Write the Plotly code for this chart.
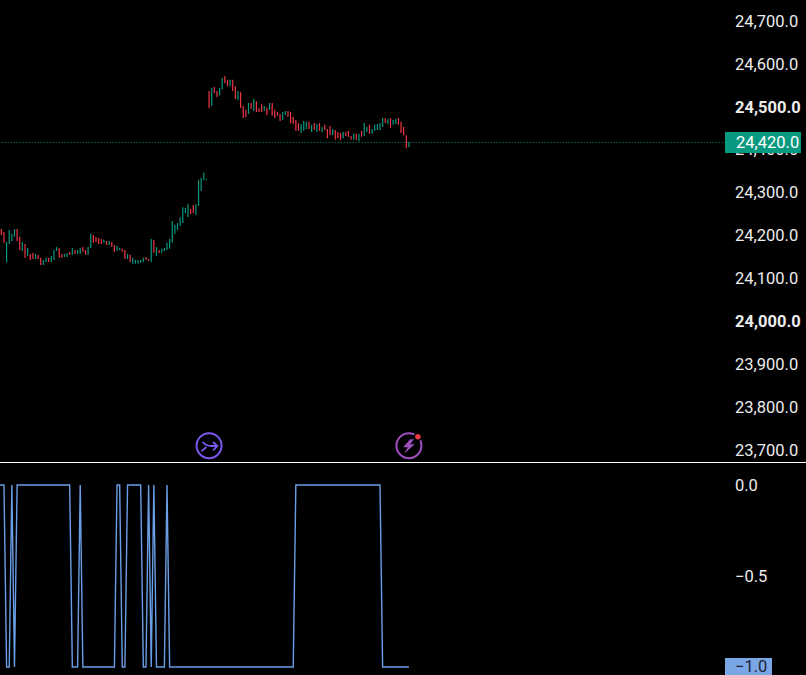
import plotly.graph_objects as go

highs = [
    24215,24208,24185,24213,24204,24215,24215,24197,24185,24180,24171,24157,24159,24157,24155,24148,24143,24148,24148,24152,
    24166,24173,24171,24157,24157,24159,24162,24171,24166,24166,24171,24173,24166,24173,24204,24201,24197,24194,24192,24190,
    24187,24187,24185,24178,24176,24171,24169,24166,24157,24155,24148,24143,24143,24143,24148,24150,24145,24192,24190,24173,
    24166,24169,24171,24183,24192,24234,24225,24229,24243,24266,24264,24273,24262,24271,24273,24329,24334,24346,24332,
    24537,24544,24546,24537,24544,24567,24572,24563,24563,24563,24548,24537,24534,24502,24493,24509,24509,24518,24513,24497,
    24506,24502,24497,24509,24509,24493,24488,24483,24488,24490,24490,24488,24476,24469,24462,24460,24467,24465,24465,24458,
    24462,24460,24462,24453,24458,24448,24455,24448,24446,24441,24439,24441,24441,24444,24432,24437,24437,24437,24444,24462,
    24453,24458,24448,24458,24460,24462,24474,24474,24472,24474,24469,24472,24474,24465,24453,24434,24418,
]
lows = [
    24201,24183,24137,24180,24187,24197,24187,24166,24164,24148,24152,24143,24145,24145,24145,24131,24131,24138,24138,24138,
    24143,24164,24148,24148,24150,24150,24155,24155,24157,24157,24157,24162,24155,24155,24171,24183,24185,24180,24180,24183,
    24178,24178,24173,24162,24164,24166,24162,24145,24145,24138,24134,24134,24134,24136,24138,24143,24141,24138,24159,24152,
    24159,24159,24164,24166,24169,24183,24204,24213,24222,24229,24252,24243,24250,24252,24248,24269,24304,24329,24329,
    24497,24502,24532,24523,24527,24541,24555,24548,24548,24537,24518,24516,24497,24474,24476,24483,24495,24490,24488,24488,
    24488,24490,24481,24493,24479,24474,24479,24467,24469,24481,24476,24462,24460,24444,24444,24439,24444,24448,24448,24441,
    24446,24441,24444,24441,24446,24427,24434,24434,24423,24427,24423,24427,24432,24430,24423,24423,24423,24420,24430,24432,
    24441,24437,24437,24444,24446,24446,24453,24462,24460,24451,24458,24460,24458,24439,24434,24404,24406,
]
directions = (
    "rrggggrrgr" "grrgrrggrg" "ggrrggrgrg" "grrggrrrrg"
    "rgrrggrrgr" "gggggrrgrg" "rggggggggg" "ggrrggggg"
    "rgrrggrrgr" "rgrrrgrgrr" "rgrgrrrrgg" "rrrrrgggrg"
    "rgrgrrrgrr" "rgrrrgrgrg" "grgggggrgr" "ggrrrrg"
)
indicator = [
    0,0,-1,-1,0,-1,0,0,0,0,0,0,0,0,0,0,0,0,0,0,0,0,0,0,0,0,0,-1,-1,-1,
    0,-1,-1,-1,-1,-1,-1,-1,-1,-1,-1,-1,-1,-1,0,0,-1,-1,0,0,0,0,0,0,-1,-1,0,-1,0,-1,
    -1,-1,-1,0,-1,-1,-1,-1,-1,-1,-1,-1,-1,-1,-1,-1,-1,-1,-1,-1,-1,-1,-1,-1,-1,-1,-1,-1,-1,-1,
    -1,-1,-1,-1,-1,-1,-1,-1,-1,-1,-1,-1,-1,-1,-1,-1,-1,-1,-1,-1,-1,-1,0,0,0,0,0,0,0,0,
    0,0,0,0,0,0,0,0,0,0,0,0,0,0,0,0,0,0,0,0,0,0,0,0,0,-1,-1,-1,-1,-1,-1,-1,-1,-1,-1,-1,
]
indicator_before_first_bar = 0
price_ticks = [24700, 24600, 24500, 24400, 24300, 24200, 24100, 24000, 23900, 23800, 23700]
price_labels = ["24,700.0", "24,600.0", "<b>24,500.0</b>", "24,400.0", "24,300.0", "24,200.0",
                "24,100.0", "<b>24,000.0</b>", "23,900.0", "23,800.0", "23,700.0"]
indicator_ticks = [0, -0.5, -1]
indicator_labels = ["0.0", "\u22120.5", "\u22121.0"]
last_price_label = "24,420.0"
last_price_level = 24417

GREEN = "#089981"
RED = "#f23645"
BLUE = "#6a9ee6"
TAG_BLUE = "#7ba6e6"
TEXT = "#ececec"
FONT = "Roboto"
FONT_SIZE = 16.5

W, H = 806, 675
PLOT_W = 725
SPLIT = 462
bar_index = list(range(len(highs)))
opens = [l if d == "g" else h for h, l, d in zip(highs, lows, directions)]
closes = [h if d == "g" else l for h, l, d in zip(highs, lows, directions)]

fig = go.Figure()
fig.add_trace(go.Ohlc(
    x=bar_index, open=opens, high=highs, low=lows, close=closes,
    tickwidth=0, xaxis="x", yaxis="y", hoverinfo="skip",
    increasing=dict(line=dict(color=GREEN, width=1.2)),
    decreasing=dict(line=dict(color=RED, width=1.2)),
))
fig.add_trace(go.Scatter(
    x=[-1] + bar_index, y=[indicator_before_first_bar] + indicator, mode="lines", xaxis="x", yaxis="y2",
    line=dict(color=BLUE, width=1.4), hoverinfo="skip",
))

ICON_Y = 23710
ICON_A = 79
ICON_B = 155
ARROW_COLOR = "#7a58f0"
BOLT_COLOR = "#a04fc0"


def pixel_shape(anchor_x, **kw):
    return dict(xref="x", yref="y", xsizemode="pixel", ysizemode="pixel",
                xanchor=anchor_x, yanchor=ICON_Y, layer="above", **kw)


def tag_shape(axis, level, width, height, color):
    return dict(type="rect", xref="paper", yref=axis, x0=1, x1=1 + width / PLOT_W,
                ysizemode="pixel", yanchor=level, y0=-height / 2, y1=height / 2,
                fillcolor=color, line=dict(width=0), layer="above")


shapes = [
    dict(type="line", xref="x", yref="y", x0=-1, x1=276, y0=last_price_level, y1=last_price_level,
         line=dict(color=GREEN, width=1, dash="1px,2px"), layer="below"),
    dict(type="line", xref="paper", yref="paper", x0=0, x1=W / PLOT_W, y0=1 - (SPLIT + .5) / H, y1=1 - (SPLIT + .5) / H,
         line=dict(color="#ffffff", width=1), layer="above"),
    pixel_shape(ICON_A, type="circle", x0=-12.5, x1=12.5, y0=-12.5, y1=12.5,
                line=dict(color=ARROW_COLOR, width=2)),
    pixel_shape(ICON_A, type="path",
                path="M-6.5,3.7 Q-3,-0.3 2,-0.3 L8,-0.3 M4,3.7 L8.3,-0.3 L4,-4.7 M-7.7,-5.7 L-2.7,-1.3",
                line=dict(color=ARROW_COLOR, width=1.8)),
    pixel_shape(ICON_B, type="circle", x0=-12.5, x1=12.5, y0=-12.5, y1=12.5,
                line=dict(color=BOLT_COLOR, width=2)),
    pixel_shape(ICON_B, type="path",
                path="M1.3,6.3 L-5.3,-1.3 L-0.7,-1.3 L-4,-7 L5.3,1.3 L0.7,1.3 L4.7,6.3 Z",
                fillcolor=BOLT_COLOR, line=dict(color=BOLT_COLOR, width=0.5)),
    pixel_shape(ICON_B, type="circle", x0=5.5, x1=12.5, y0=5.5, y1=12.5,
                fillcolor=RED, line=dict(color="#000000", width=1.5)),
    tag_shape("y", last_price_level, 76, 21, GREEN),
    tag_shape("y2", -1, 47, 18, TAG_BLUE),
]

annotations = [
    dict(xref="paper", yref="y", x=1 + 10 / PLOT_W, y=last_price_level, xanchor="left", yanchor="middle",
         text=last_price_label, showarrow=False,
         font=dict(color="#ffffff", family=FONT, size=FONT_SIZE), borderpad=0),
    dict(xref="paper", yref="y2", x=1 + 9 / PLOT_W, y=-1, xanchor="left", yanchor="middle",
         text=indicator_labels[2], showarrow=False,
         font=dict(color="#1a2433", family=FONT, size=FONT_SIZE), borderpad=0),
]

fig.update_layout(
    width=W, height=H, margin=dict(l=0, r=W - PLOT_W, t=0, b=0, pad=0),
    paper_bgcolor="#000000", plot_bgcolor="#000000", showlegend=False,
    font=dict(family=FONT, color=TEXT, size=FONT_SIZE),
    shapes=shapes, annotations=annotations,
    xaxis=dict(domain=[0, 1], range=[-0.506, 275.2], visible=False, rangeslider=dict(visible=False), anchor="y"),
    yaxis=dict(domain=[1 - SPLIT / H, 1], range=[23672, 24749], side="right", anchor="x",
               tickmode="array", tickvals=price_ticks, ticktext=price_labels,
               showgrid=False, zeroline=False, showline=False, ticks="", ticklabelstandoff=9),
    yaxis2=dict(domain=[0, 1 - (SPLIT + 1) / H], range=[-1.044, 0.121], side="right", anchor="x",
                tickmode="array", tickvals=indicator_ticks[:2], ticktext=indicator_labels[:2],
                showgrid=False, zeroline=False, showline=False, ticks="", ticklabelstandoff=9),
)

fig.write_html("out.html", config=dict(displayModeBar=False),
               post_script="document.body.style.margin='0';document.body.style.background='#000';document.documentElement.style.overflow='hidden';")
